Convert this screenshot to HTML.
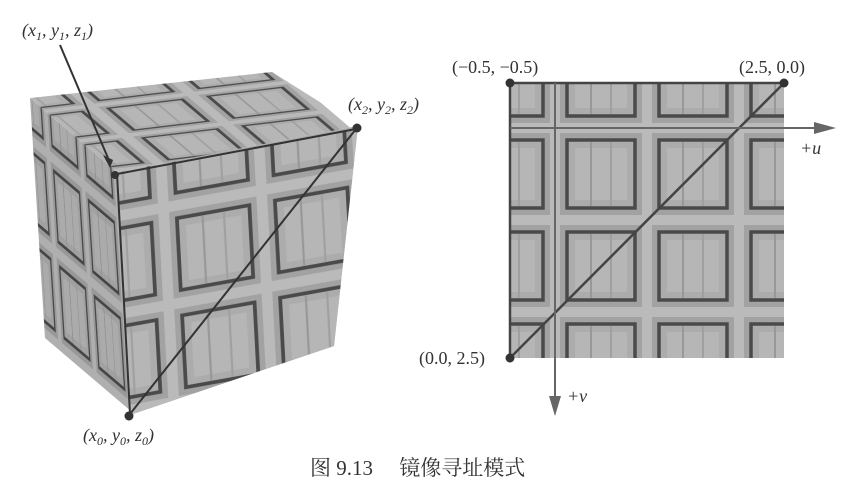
<!DOCTYPE html>
<html><head><meta charset="utf-8"><style>
html,body{margin:0;padding:0;background:#fff;}
svg{display:block;}
text{font-family:"Liberation Serif","Noto Serif CJK SC",serif;fill:#333;}
</style></head><body>
<svg width="854" height="494" viewBox="0 0 854 494">
<defs>
  <g id="tile">
    <rect x="0" y="0" width="92" height="92" fill="#a2a2a2"/>
    <rect x="-5" y="-5" width="10" height="102" fill="#bababa"/>
    <rect x="-5" y="-5" width="102" height="10" fill="#bababa"/>
    <rect x="87" y="-5" width="10" height="102" fill="#bababa"/>
    <rect x="-5" y="87" width="102" height="10" fill="#bababa"/>
    <rect x="12" y="12" width="68" height="68" fill="#acacac" stroke="#4a4a4a" stroke-width="3.5"/>
    <rect x="20" y="20" width="52" height="52" fill="#b6b6b6"/>
    <line x1="36" y1="14" x2="36" y2="78" stroke="#989898" stroke-width="2"/>
    <line x1="56" y1="14" x2="56" y2="78" stroke="#a0a0a0" stroke-width="2"/>
  </g>
  <pattern id="pat2d" patternUnits="userSpaceOnUse" width="92" height="92" patternTransform="translate(555,128)">
    <use href="#tile"/>
  </pattern>
  <pattern id="patFace" patternUnits="userSpaceOnUse" width="92" height="92" patternTransform="translate(18,18) scale(0.4348)">
    <use href="#tile"/>
  </pattern>
  <clipPath id="frontClip"><polygon points="117,172 358,126 334,346 130,415"/></clipPath>
  <clipPath id="topClip"><polygon points="30,98 272,72 358,126 117,172"/></clipPath>
</defs>

<g>
  <polygon points="117,172 358,126 334,346 130,415" fill="#a8a8a8"/>
  <g clip-path="url(#topClip)">
    <g transform="matrix(2.5,-0.3,0.87,0.74,30,98)">
      <rect x="0" y="0" width="100" height="100" fill="url(#patFace)"/>
    </g>
  </g>
  <g transform="matrix(0.87,0.74,0.15,2.4,30,98)">
    <rect x="0" y="0" width="100" height="100" fill="url(#patFace)"/>
    <rect x="0" y="0" width="100" height="100" fill="#000" opacity="0.06"/>
  </g>
  <g clip-path="url(#frontClip)">
    <g transform="matrix(2.45,-0.44,0.13,2.43,117,172)">
      <rect x="0" y="0" width="100" height="100" fill="url(#patFace)"/>
    </g>
  </g>
  <g stroke="#333" stroke-width="2" fill="none">
    <line x1="117" y1="174" x2="356" y2="129"/>
    <line x1="117" y1="174" x2="130" y2="414"/>
    <line x1="130" y1="414" x2="356" y2="129"/>
    <line x1="60" y1="45" x2="108" y2="158"/>
  </g>
  <polygon points="103,155 113,160 110,168" fill="#333"/>
  <circle cx="115" cy="175" r="4" fill="#333"/>
  <circle cx="357" cy="128" r="4.5" fill="#333"/>
  <circle cx="129" cy="416" r="4.5" fill="#333"/>
  <text x="22" y="36" font-size="18" font-style="italic">(x<tspan font-size="12" dy="4">1</tspan><tspan dy="-4">, y</tspan><tspan font-size="12" dy="4">1</tspan><tspan dy="-4">, z</tspan><tspan font-size="12" dy="4">1</tspan><tspan dy="-4">)</tspan></text>
  <text x="348" y="110" font-size="18" font-style="italic">(x<tspan font-size="12" dy="4">2</tspan><tspan dy="-4">, y</tspan><tspan font-size="12" dy="4">2</tspan><tspan dy="-4">, z</tspan><tspan font-size="12" dy="4">2</tspan><tspan dy="-4">)</tspan></text>
  <text x="83" y="441" font-size="18" font-style="italic">(x<tspan font-size="12" dy="4">0</tspan><tspan dy="-4">, y</tspan><tspan font-size="12" dy="4">0</tspan><tspan dy="-4">, z</tspan><tspan font-size="12" dy="4">0</tspan><tspan dy="-4">)</tspan></text>
</g>

<g>
  <rect x="510" y="83" width="274" height="275" fill="url(#pat2d)"/>
  <g stroke="#444" stroke-width="2.5">
    <line x1="510" y1="83" x2="784" y2="83"/>
    <line x1="510" y1="83" x2="510" y2="358"/>
    <line x1="510" y1="358" x2="784" y2="83"/>
  </g>
  <g stroke="#666" stroke-width="2">
    <line x1="510" y1="128" x2="820" y2="128"/>
    <line x1="555" y1="83" x2="555" y2="398"/>
  </g>
  <polygon points="814,122 836,128 814,134" fill="#666"/>
  <polygon points="549,396 555,416 561,396" fill="#666"/>
  <circle cx="510" cy="83" r="4.5" fill="#333"/>
  <circle cx="784" cy="83" r="4.5" fill="#333"/>
  <circle cx="510" cy="358" r="4.5" fill="#333"/>
  <text x="452" y="73" font-size="18">(−0.5, −0.5)</text>
  <text x="739" y="73" font-size="18">(2.5, 0.0)</text>
  <text x="419" y="364" font-size="18">(0.0, 2.5)</text>
  <text x="800" y="154" font-size="18" font-style="italic">+u</text>
  <text x="567" y="402" font-size="18" font-style="italic">+v</text>
</g>

<text x="310" y="475" font-size="21">图 9.13　 镜像寻址模式</text>
</svg>
</body></html>
